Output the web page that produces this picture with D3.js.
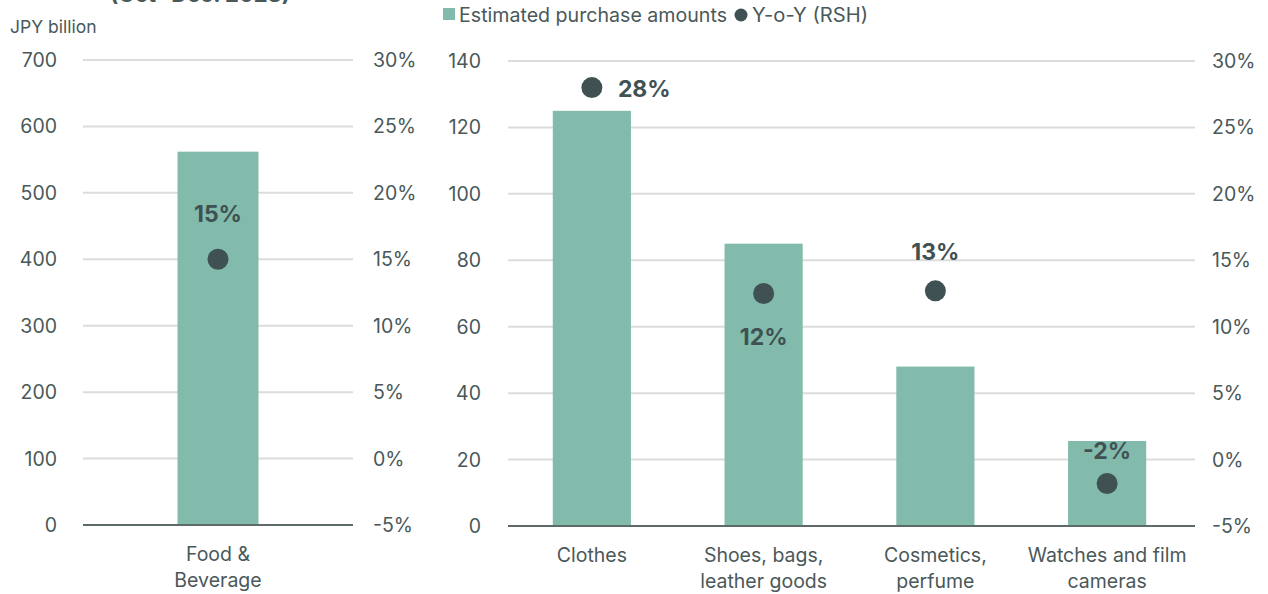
<!DOCTYPE html>
<html>
<head>
<meta charset="utf-8">
<script src="https://cdn.jsdelivr.net/npm/d3@7"></script>
<style>
  body { margin: 0; background: #fff; }
  svg { display: block; font-family: "Inter", "Roboto", sans-serif; }
</style>
</head>
<body>
<svg id="chart" width="1268" height="594"></svg>
<script>
// --- Data ---
const leftCategories = ["Food &\nBeverage"];
const leftAmounts = [562];
const leftYoY = [15.0];
const leftYoYLabels = ["15%"];

const rightCategories = ["Clothes", "Shoes, bags,\nleather goods", "Cosmetics,\nperfume", "Watches and film\ncameras"];
const rightAmounts = [125, 85, 48, 25.6];
const rightYoY = [28.0, 12.5, 12.7, -1.8];
const rightYoYLabels = ["28%", "12%", "13%", "-2%"];

const leftTicks = [0, 100, 200, 300, 400, 500, 600, 700];
const rightTicks = [0, 20, 40, 60, 80, 100, 120, 140];
const pctTicks = [-5, 0, 5, 10, 15, 20, 25, 30];

// --- Styles ---
const barColor = "#82bbac";
const dotColor = "#3f5152";
const textColor = "#4a5859";
const gridColor = "#dcdcdc";

const svg = d3.select("#chart");

// title, cut off at the top edge as in the source
svg.append("text")
    .attr("x", 200).attr("y", 2)
    .attr("text-anchor", "middle")
    .attr("font-size", "22px")
    .attr("font-weight", "bold")
    .attr("fill", textColor)
    .text("(Oct- Dec. 2023)");

svg.append("text")
    .attr("x", 10).attr("y", 33)
    .attr("font-size", "17.5px")
    .attr("fill", textColor)
    .text("JPY billion");

// legend
const legend = svg.append("g");
legend.append("rect").attr("x", 443).attr("y", 8).attr("width", 12).attr("height", 12).attr("fill", barColor);
legend.append("text").attr("x", 459).attr("y", 22).attr("font-size", "19.5px").attr("fill", textColor)
    .attr("textLength", 268).attr("lengthAdjust", "spacingAndGlyphs")
    .text("Estimated purchase amounts");
legend.append("circle").attr("cx", 741).attr("cy", 15).attr("r", 6.5).attr("fill", dotColor);
legend.append("text").attr("x", 752).attr("y", 22).attr("font-size", "19.5px").attr("fill", textColor)
    .attr("textLength", 116).attr("lengthAdjust", "spacingAndGlyphs")
    .text("Y-o-Y (RSH)");

// --- Panel drawer ---
function drawPanel(opt) {
    const { x0, x1, shift, yTop, yBottom, cats, amounts, yoy, labels, ticks, maxVal, padding, leftLabelX, rightLabelX, labelPos } = opt;

    const x = d3.scaleBand().domain(cats).range([x0 + shift, x1 + shift]).paddingInner(padding).paddingOuter(padding / 2);
    const y = d3.scaleLinear().domain([0, maxVal]).range([yBottom, yTop]);
    const yPct = d3.scaleLinear().domain([-5, 30]).range([yBottom, yTop]);

    const g = svg.append("g");

    // gridlines
    g.selectAll(".grid").data(ticks.filter(t => t > 0)).enter().append("line")
        .attr("x1", x0).attr("x2", x1)
        .attr("y1", d => y(d)).attr("y2", d => y(d))
        .attr("stroke", gridColor).attr("stroke-width", 2);

    // left tick labels
    g.selectAll(".lt").data(ticks).enter().append("text")
        .attr("x", leftLabelX).attr("y", d => y(d) + 7)
        .attr("text-anchor", "end")
        .attr("font-size", "19.5px").attr("fill", textColor)
        .text(d => d);

    // right tick labels
    g.selectAll(".rt").data(pctTicks).enter().append("text")
        .attr("x", rightLabelX).attr("y", d => yPct(d) + 7)
        .attr("font-size", "19.5px").attr("fill", textColor)
        .text(d => d + "%");

    // bars
    g.selectAll(".bar").data(cats).enter().append("rect")
        .attr("x", d => x(d)).attr("width", x.bandwidth())
        .attr("y", (d, i) => y(amounts[i]))
        .attr("height", (d, i) => y(0) - y(amounts[i]))
        .attr("fill", barColor);

    // baseline
    g.append("line").attr("x1", x0).attr("x2", x1)
        .attr("y1", y(0)).attr("y2", y(0))
        .attr("stroke", "#5d6a6a").attr("stroke-width", 2);

    // dots
    g.selectAll(".dot").data(cats).enter().append("circle")
        .attr("cx", d => x(d) + x.bandwidth() / 2)
        .attr("cy", (d, i) => yPct(yoy[i]))
        .attr("r", 10.5)
        .attr("fill", dotColor);

    // yoy labels
    g.selectAll(".lbl").data(cats).enter().append("text")
        .attr("x", (d, i) => x(d) + x.bandwidth() / 2 + labelPos[i][0])
        .attr("y", (d, i) => yPct(yoy[i]) + labelPos[i][1])
        .attr("text-anchor", (d, i) => labelPos[i][2] || "middle")
        .attr("font-size", "23px").attr("font-weight", "bold")
        .attr("fill", dotColor)
        .text((d, i) => labels[i]);

    // category labels
    cats.forEach(c => {
        const cx = x(c) + x.bandwidth() / 2;
        const t = g.append("text")
            .attr("x", cx)
            .attr("y", yBottom + 36)
            .attr("text-anchor", "middle")
            .attr("font-size", "19.5px").attr("fill", textColor);
        c.split("\n").forEach((line, j) => {
            t.append("tspan").attr("x", cx).attr("dy", j === 0 ? 0 : 26).text(line);
        });
    });
}

drawPanel({
    x0: 83, x1: 353, shift: 0, yTop: 60, yBottom: 525,
    cats: leftCategories, amounts: leftAmounts, yoy: leftYoY, labels: leftYoYLabels,
    ticks: leftTicks, maxVal: 700, padding: 0.7,
    leftLabelX: 57, rightLabelX: 373,
    labelPos: [[0, -37]]
});

drawPanel({
    x0: 508, x1: 1195, shift: -2, yTop: 61, yBottom: 526,
    cats: rightCategories, amounts: rightAmounts, yoy: rightYoY, labels: rightYoYLabels,
    ticks: rightTicks, maxVal: 140, padding: 0.545,
    leftLabelX: 481, rightLabelX: 1212,
    labelPos: [[26, 9, "start"], [0, 51], [0, -31], [0, -24]]
});
</script>
</body>
</html>
